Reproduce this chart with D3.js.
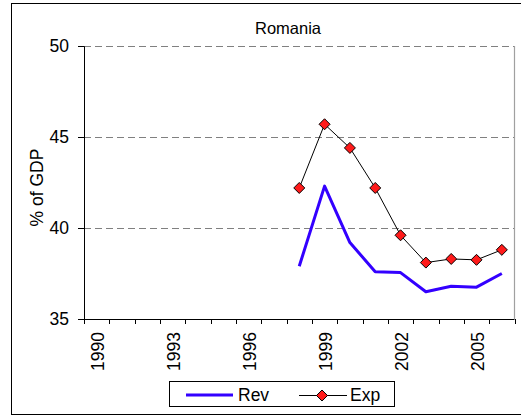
<!DOCTYPE html>
<html>
<head>
<meta charset="utf-8">
<script src="https://cdn.jsdelivr.net/npm/d3@7"></script>
<style>
  html, body { margin: 0; padding: 0; background: #fff; }
  svg { display: block; font-family: "Liberation Sans", Arial, sans-serif; }
</style>
</head>
<body>
<svg id="chart" width="521" height="416"></svg>
<script>
const years = [1990,1991,1992,1993,1994,1995,1996,1997,1998,1999,2000,2001,2002,2003,2004,2005,2006];
const revYears = [1998,1999,2000,2001,2002,2003,2004,2005,2006];
const revValues = [37.9,42.3,39.2,37.6,37.55,36.5,36.8,36.75,37.5];
const expValues = [42.2,45.7,44.4,42.2,39.6,38.1,38.3,38.25,38.8];
const yTicks = [35,40,45,50];
const xTickLabels = [1990,1993,1996,1999,2002,2005];
const title = "Romania";
const yLabel = "% of GDP";

const FS = 17.5;
const svg = d3.select("#chart");
const L = 84, R = 514.5, T = 46, B = 319;

// outer frame
svg.append("rect").attr("x", 11.5).attr("y", 3.5).attr("width", 520).attr("height", 411)
  .attr("fill", "none").attr("stroke", "#000").attr("stroke-width", 1);

const x = d3.scaleBand().domain(years).range([L, R]);
const y = d3.scaleLinear().domain([35, 50]).range([B, T]);

// gridlines
svg.append("g").selectAll("line").data(yTicks.filter(d => d > 35)).join("line")
  .attr("x1", L).attr("x2", R)
  .attr("y1", d => Math.round(y(d)) + 0.5).attr("y2", d => Math.round(y(d)) + 0.5)
  .attr("stroke", "#808080").attr("stroke-width", 1).attr("stroke-dasharray", "7,4");

// right border
svg.append("line").attr("x1", R).attr("x2", R).attr("y1", T).attr("y2", B)
  .attr("stroke", "#a0a0a0").attr("stroke-width", 1.2);

// y axis
const yAxis = d3.axisLeft(y).tickValues(yTicks).tickSize(6).tickPadding(9);
const gy = svg.append("g").attr("transform", `translate(${L},0)`).call(yAxis);
gy.select(".domain").attr("stroke", "#000");
gy.selectAll(".tick line").attr("stroke", "#000");
gy.selectAll("text").attr("font-size", FS).attr("fill", "#000").attr("font-family", "Liberation Sans, Arial, sans-serif");

// x axis: ticks at band boundaries
const boundaries = years.map(d => x(d)).concat([R]);
const gx = svg.append("g");
gx.append("line").attr("x1", L).attr("x2", R).attr("y1", B + 0.5).attr("y2", B + 0.5).attr("stroke", "#000");
gx.selectAll("line.tk").data(boundaries).join("line").attr("class", "tk")
  .attr("x1", d => Math.round(d) + 0.5).attr("x2", d => Math.round(d) + 0.5)
  .attr("y1", B).attr("y2", B + 5).attr("stroke", "#000");
gx.selectAll("text").data(xTickLabels).join("text")
  .attr("transform", d => `translate(${x(d) + x.bandwidth() / 2 + 7},${B + 13}) rotate(-90)`)
  .attr("text-anchor", "end").attr("font-size", FS).attr("fill", "#000")
  .text(d => d);

// title
svg.append("text").attr("x", 288).attr("y", 34).attr("text-anchor", "middle")
  .attr("font-size", 16.5).text(title);

// y label
svg.append("text").attr("transform", `translate(43,${(T + B) / 2 + 5}) rotate(-90)`)
  .attr("text-anchor", "middle").attr("font-size", FS).text(yLabel);

const cx = d => x(d) + x.bandwidth() / 2;

// Rev line
const revData = revYears.map((d, i) => ({ year: d, v: revValues[i] }));
const expData = revYears.map((d, i) => ({ year: d, v: expValues[i] }));
const line = d3.line().x(d => cx(d.year)).y(d => y(d.v));
svg.append("path").datum(revData).attr("d", line)
  .attr("fill", "none").attr("stroke", "#3300ff").attr("stroke-width", 3).attr("stroke-linejoin", "round");

// Exp line
svg.append("path").datum(expData).attr("d", line)
  .attr("fill", "none").attr("stroke", "#000").attr("stroke-width", 1);
const diamond = s => `M0,${-s}L${s},0L0,${s}L${-s},0Z`;
svg.append("g").selectAll("path").data(expData).join("path")
  .attr("transform", d => `translate(${cx(d.year)},${y(d.v)})`)
  .attr("d", diamond(5.5)).attr("fill", "#ff1a1a").attr("stroke", "#000").attr("stroke-width", 1);

// legend
const lg = svg.append("g");
lg.append("rect").attr("x", 169.5).attr("y", 381.5).attr("width", 225).attr("height", 25)
  .attr("fill", "#fff").attr("stroke", "#000");
lg.append("line").attr("x1", 186).attr("x2", 233).attr("y1", 395).attr("y2", 395)
  .attr("stroke", "#3300ff").attr("stroke-width", 3);
lg.append("text").attr("x", 238).attr("y", 401).attr("font-size", FS).text("Rev");
lg.append("line").attr("x1", 299).attr("x2", 347).attr("y1", 395.5).attr("y2", 395.5)
  .attr("stroke", "#000").attr("stroke-width", 1);
lg.append("path").attr("transform", "translate(322,395.5)").attr("d", diamond(5.5))
  .attr("fill", "#ff1a1a").attr("stroke", "#000");
lg.append("text").attr("x", 350).attr("y", 401).attr("font-size", FS).text("Exp");
</script>
</body>
</html>
